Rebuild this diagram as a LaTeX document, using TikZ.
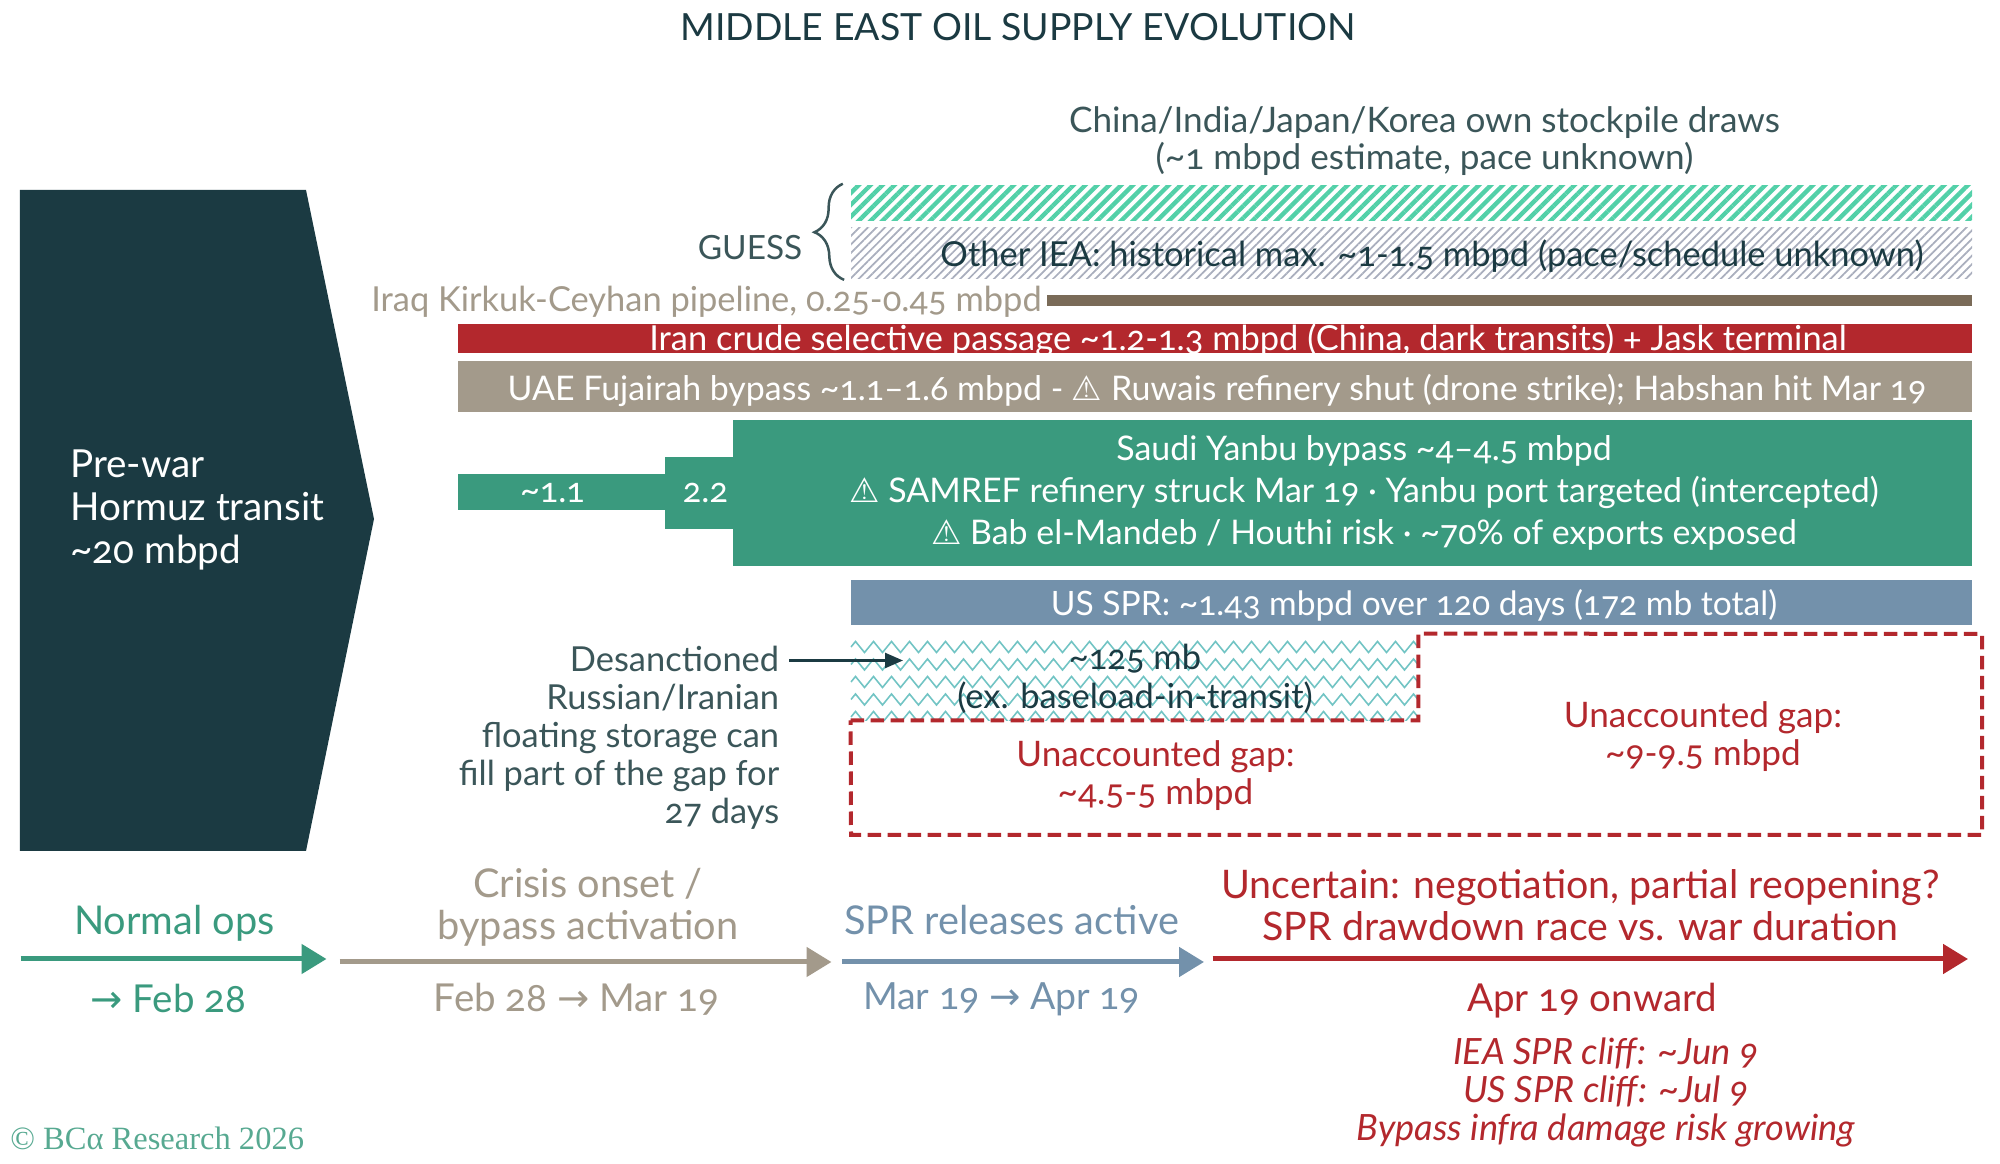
\documentclass[tikz,border=0pt]{standalone}
\usepackage{fontspec}
\setmainfont[Numbers=OldStyle]{Lato}
\newfontfamily\symfont{DejaVu Sans}
\newfontfamily\logofont{Liberation Serif}
\usepackage{tikz}
\usetikzlibrary{arrows.meta, patterns.meta, decorations.pathmorphing, decorations.pathreplacing}
\definecolor{oildark}{HTML}{1B3A42}
\definecolor{oilink}{HTML}{3B5659}
\definecolor{oilgreen}{HTML}{3A9A7E}
\definecolor{oilmint}{HTML}{52D0A8}
\definecolor{oilhatch}{HTML}{A9AEBD}
\definecolor{oiltan}{HTML}{A39A8B}
\definecolor{oilbrown}{HTML}{7A6B58}
\definecolor{oilred}{HTML}{B3282D}
\definecolor{oilblue}{HTML}{7391AB}
\definecolor{oilwave}{HTML}{72C4C4}
\tikzset{
  barbox/.style={rectangle, inner sep=0pt},
  bartext/.style={
    inner sep=0pt, align=center, text=white,
    font=\fontsize{19.5}{23.9}\selectfont
  },
  mintbar/.style={rectangle, inner sep=0pt,
    pattern={Lines[angle=45, distance=4.8pt, line width=2.5pt]}, pattern color=oilmint},
  greybar/.style={rectangle, inner sep=0pt,
    pattern={Lines[angle=45, distance=3.4pt, line width=1pt]}, pattern color=oilhatch},
  bodytext/.style={inner sep=0pt, align=center, font=\fontsize{19.6}{21.4}\selectfont},
  phasetext/.style={inner sep=0pt, align=center, font=\fontsize{22.6}{23.9}\selectfont},
  datetext/.style={inner sep=0pt, align=center, font=\fontsize{21.9}{23.9}\selectfont},
  phasearrow/.style={-{Triangle[length=.5cm, width=.58cm]}, line width=.1cm},
  gapline/.style={draw=oilred, line width=.08cm, dash pattern=on .27cm off .13cm},
  waveline/.style={draw=oilwave, line width=.032cm,
    decorate, decoration={zigzag, segment length=.36cm, amplitude=.11cm}}
}
\newcommand{\tld}{\textasciitilde}
\newcommand{\warn}{{\symfont\char"26A0}}
\newcommand{\toarrow}{{\symfont\char"2192}}

\begin{document}
\begin{tikzpicture}
\useasboundingbox (0,0) rectangle (40,23.26);

% ── Title ────────────────────────────────────────────────────────────────────
\node[inner sep=0pt, text=oildark, font=\fontsize{21.3}{25}\selectfont] (title) at (20.36,22.72)
  {MIDDLE EAST OIL SUPPLY EVOLUTION};

% ── Pre-war block ────────────────────────────────────────────────────────────
\fill[oildark] (0.40,19.46) -- (6.12,19.46) -- (7.48,12.88) -- (6.12,6.24) -- (0.40,6.24) -- cycle;
\node[inner sep=0pt, anchor=west, align=left, text=white, font=\fontsize{22}{24.4}\selectfont] (prewar) at (1.40,13.06)
  {Pre-war\\Hormuz transit\\\tld20 mbpd};

% ── Guess bars ───────────────────────────────────────────────────────────────
\node[bodytext, text=oilink, font=\fontsize{20}{21}\selectfont] (stock) at (28.49,20.44)
  {China/India/Japan/Korea own stockpile draws\\(\tld1 mbpd estimate, pace unknown)};
\node[mintbar, minimum width=22.42cm, minimum height=.70cm] (mint) at (28.23,19.19) {};
\node[greybar, minimum width=22.42cm, minimum height=1.02cm] (other) at (28.23,18.19) {};
\node[bodytext, text=oildark] (othertext) at (28.64,18.14)
  {Other IEA: historical max. \tld1-1.5 mbpd (pace/schedule unknown)};
\node[bodytext, text=oilink, font=\fontsize{19}{21}\selectfont] (guess) at (15.0,18.31) {GUESS};
\draw[oilink, line width=.05cm, decorate, decoration={brace, amplitude=.58cm}]
  ([xshift=-.12cm] other.south west) -- ([xshift=-.12cm] mint.north west);

% ── Bypass bars ──────────────────────────────────────────────────────────────
\node[bodytext, text=oiltan, anchor=east] (iraq) at (20.84,17.22) {Iraq Kirkuk-Ceyhan pipeline, 0.25-0.45 mbpd};
\node[barbox, fill=oilbrown, minimum width=18.5cm, minimum height=.22cm] (iraqbar) at (30.19,17.25) {};
\node[barbox, fill=oilred, minimum width=30.28cm, minimum height=.58cm] (iran) at (24.30,16.49) {};
\node[bartext, font=\fontsize{19.6}{23.9}\selectfont] (irantext) at (24.96,16.46)
  {Iran crude selective passage \tld1.2-1.3 mbpd (China, dark transits) + Jask terminal};
\node[barbox, fill=oiltan, minimum width=30.28cm, minimum height=1.02cm] (uae) at (24.30,15.53) {};
\node[bartext, font=\fontsize{19.3}{23.9}\selectfont] (uaetext) at (24.34,15.46)
  {UAE Fujairah bypass \tld1.1--1.6 mbpd - \warn{} Ruwais refinery shut (drone strike); Habshan hit Mar 19};
\node[barbox, fill=oilgreen, minimum width=24.78cm, minimum height=2.92cm] (saudi) at (27.05,13.40) {};
\node[bartext, font=\fontsize{19.3}{23.9}\selectfont] (saudidtext) at (27.28,13.40)
  {Saudi Yanbu bypass \tld4--4.5 mbpd\\
   \warn{} SAMREF refinery struck Mar 19 · Yanbu port targeted (intercepted)\\
   \warn{} Bab el-Mandeb / Houthi risk · \tld70\% of exports exposed};
\node[barbox, fill=oilgreen, minimum width=1.36cm, minimum height=1.44cm] (step2) at (13.98,13.40) {};
\node[barbox, fill=oilgreen, minimum width=4.14cm, minimum height=.72cm] (step1) at (11.23,13.42) {};
\node[bartext] (steptwo) at (14.11,13.40) {2.2};
\node[bartext] (stepone) at (11.05,13.40) {\tld1.1};

% ── SPR and floating storage ─────────────────────────────────────────────────
\node[barbox, fill=oilblue, minimum width=22.42cm, minimum height=.90cm] (spr) at (28.23,11.21) {};
\node[bartext, font=\fontsize{19.1}{23.9}\selectfont] (sprtext) at (28.28,11.16) {US SPR: \tld1.43 mbpd over 120 days (172 mb total)};
\node[rectangle, inner sep=0pt, minimum width=11.34cm, minimum height=1.72cm] (wavebox) at (22.69,9.72) {};
\begin{scope}
\clip (wavebox.south west) rectangle (wavebox.north east);
\foreach \wy in {8.92,9.27,...,10.6}
  \draw[waveline] (17.02,\wy) -- (28.36,\wy);
\end{scope}
\node[bodytext, text=oildark, font=\fontsize{19.6}{22}\selectfont] (floatmb) at (22.70,9.68)
  {\tld125 mb\\(ex. baseload-in-transit)};
\node[bodytext, text=oilink, anchor=east, align=right, font=\fontsize{19.6}{21.6}\selectfont] (desanc) at (15.59,8.50)
  {Desanctioned\\Russian/Iranian\\floating storage can\\fill part of the gap for\\27 days};
\coordinate (floatin) at (18.06,10.05);
\coordinate (floatout) at (15.78,10.05);
\draw[-{Triangle[length=.36cm, width=.3cm]}, oildark, line width=.05cm] (floatout) -- (floatin);

% ── Unaccounted gap outline ──────────────────────────────────────────────────
\draw[gapline] (wavebox.south west) -- (wavebox.south east) -- (wavebox.north east)
  -- (39.64,10.58) -- (39.64,6.56) -- (17.02,6.56) -- cycle;
\node[bodytext, text=oilred, font=\fontsize{20}{21.6}\selectfont] (gapa) at (23.11,7.74) {Unaccounted gap:\\\tld4.5-5 mbpd};
\node[bodytext, text=oilred, font=\fontsize{20}{21.6}\selectfont] (gapb) at (34.06,8.53) {Unaccounted gap:\\\tld9-9.5 mbpd};

% ── Timeline ─────────────────────────────────────────────────────────────────
\coordinate (ga) at (0.41,4.08);  \coordinate (gb) at (6.53,4.08);
\coordinate (ta) at (6.79,4.02);  \coordinate (tb) at (16.63,4.02);
\coordinate (ba) at (16.84,4.02); \coordinate (bb) at (24.08,4.02);
\coordinate (ra) at (24.25,4.08); \coordinate (rb) at (39.36,4.08);
\draw[phasearrow, oilgreen] (ga) -- (gb);
\draw[phasearrow, oiltan] (ta) -- (tb);
\draw[phasearrow, oilblue] (ba) -- (bb);
\draw[phasearrow, oilred] (ra) -- (rb);

\node[phasetext, text=oilgreen] (normal) at (3.49,4.79) {Normal ops};
\node[datetext, text=oilgreen] (normald) at (3.37,3.29) {\toarrow{} Feb 28};
\node[phasetext, text=oiltan] (crisis) at (11.76,5.12) {Crisis onset /\\bypass activation};
\node[datetext, text=oiltan] (crisisd) at (11.53,3.27) {Feb 28 \toarrow{} Mar 19};
\node[phasetext, text=oilblue] (release) at (20.23,4.85) {SPR releases active};
\node[datetext, text=oilblue, font=\fontsize{21.3}{23.9}\selectfont] (released) at (20.03,3.27) {Mar 19 \toarrow{} Apr 19};
\node[phasetext, text=oilred, font=\fontsize{22.4}{23.9}\selectfont] (uncertain) at (31.61,5.15) {Uncertain: negotiation, partial reopening?\\SPR drawdown race vs. war duration};
\node[datetext, text=oilred] (uncertaind) at (31.84,3.24) {Apr 19 onward};
\node[bodytext, text=oilred, font=\fontsize{20.6}{21.6}\selectfont\itshape] (cliff) at (32.12,1.41)
  {IEA SPR cliff: \tld Jun 9\\US SPR cliff: \tld Jul 9\\Bypass infra damage risk growing};

\node[inner sep=0pt, anchor=west, text=oilgreen!85, font=\fontsize{18.5}{20}\logofont] (logo) at (0.20,0.50)
  {© BCα Research 2026};

\end{tikzpicture}
\end{document}
